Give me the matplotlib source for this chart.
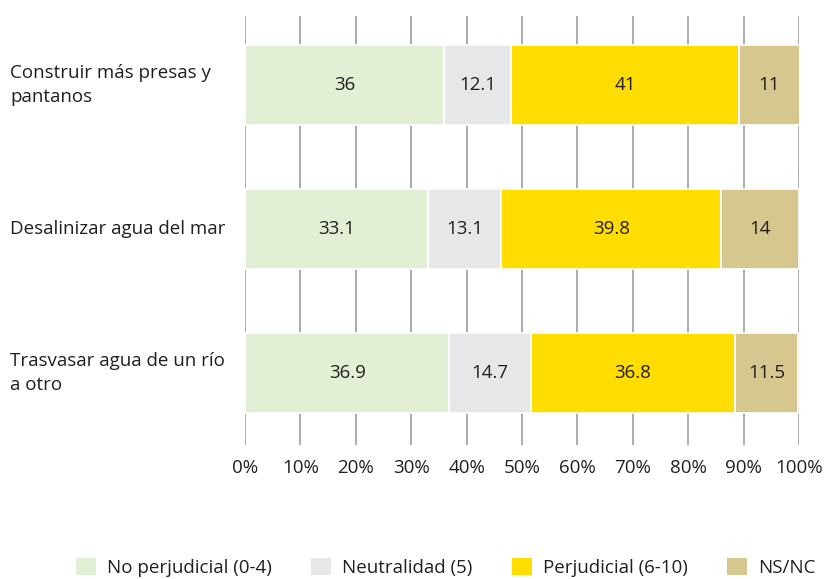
import matplotlib
matplotlib.use("Agg")
import matplotlib.pyplot as plt
from matplotlib.patches import Patch
import matplotlib.transforms as mtransforms

plt.rcParams['font.family'] = ['Open Sans', 'DejaVu Sans']

categories = ["Construir más presas y\npantanos",
              "Desalinizar agua del mar",
              "Trasvasar agua de un río\na otro"]
series_names = ["No perjudicial (0-4)", "Neutralidad (5)", "Perjudicial (6-10)", "NS/NC"]
no_perjudicial = [36, 33.1, 36.9]
neutralidad = [12.1, 13.1, 14.7]
perjudicial = [41, 39.8, 36.8]
ns_nc = [11, 14, 11.5]
value_labels = [["36", "33.1", "36.9"],
                ["12.1", "13.1", "14.7"],
                ["41", "39.8", "36.8"],
                ["11", "14", "11.5"]]
xticks = [0, 10, 20, 30, 40, 50, 60, 70, 80, 90, 100]
xtick_labels = [f"{t}%" for t in xticks]

colors = ["#E2EFD5", "#E6E7E8", "#FFDD00", "#D6C78E"]
text_color = "#231F20"
fs = 13.5

fig = plt.figure(figsize=(8.39, 5.79), dpi=100)
ax = fig.add_axes([245/839, 1-445/579, (799-245)/839, (445-16)/579])

series = [no_perjudicial, neutralidad, perjudicial, ns_nc]
y = list(range(len(categories)))
left = [0.0]*len(categories)
for i, vals in enumerate(series):
    bars = ax.barh(y, vals, left=left, height=0.555, color=colors[i],
                   edgecolor="white", linewidth=1.2, zorder=2)
    for j, b in enumerate(bars):
        ax.text(left[j] + vals[j]/2, y[j], value_labels[i][j], ha="center", va="center",
                fontsize=fs, color=text_color, zorder=3)
    left = [l + v for l, v in zip(left, vals)]

ax.set_xlim(0, 100)
ax.set_ylim(2.5, -0.48)
ax.set_xticks(xticks)
ax.set_xticklabels(xtick_labels, fontsize=fs, color=text_color)
ax.tick_params(axis="x", length=0, pad=10)
ax.set_yticks([])
for s in ax.spines.values():
    s.set_visible(False)
ax.grid(axis="x", color="#A6A6A6", linewidth=1.3, zorder=0)
ax.set_axisbelow(True)

trans = mtransforms.blended_transform_factory(fig.transFigure, ax.transData)
for j, c in enumerate(categories):
    ax.text(10/839, y[j], c, transform=trans, ha="left", va="center",
            fontsize=fs, color=text_color, linespacing=1.4)

handles = [Patch(facecolor=c, edgecolor="none") for c in colors]
fig.legend(handles, series_names, loc="lower left", bbox_to_anchor=(76/839, 2/579),
           ncol=4, frameon=False, fontsize=fs, handlelength=1.05, handleheight=1.05,
           handletextpad=0.6, columnspacing=2.1, labelcolor=text_color,
           borderpad=0, borderaxespad=0)

fig.savefig("out.png", dpi=100)
